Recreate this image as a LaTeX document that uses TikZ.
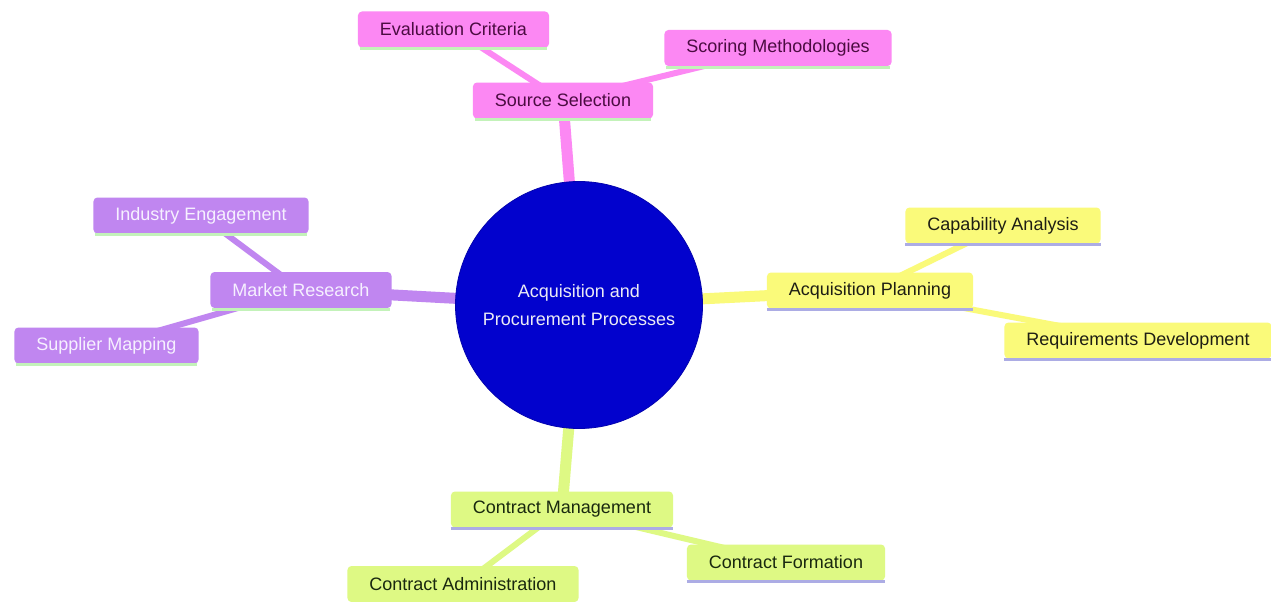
\documentclass[tikz,border=0pt]{standalone}
\usepackage{fontspec}
\setmainfont{Liberation Sans}
\usetikzlibrary{backgrounds}
\definecolor{rootfill}{RGB}{2,2,205}
\definecolor{roottext}{RGB}{235,235,245}
\definecolor{pinkfill}{RGB}{252,136,243}
\definecolor{pinktext}{RGB}{75,12,65}
\definecolor{purplefill}{RGB}{192,134,240}
\definecolor{purpletext}{RGB}{246,240,255}
\definecolor{yellowfill}{RGB}{250,250,122}
\definecolor{yellowtext}{RGB}{30,30,20}
\definecolor{greenfill}{RGB}{222,249,132}
\definecolor{greentext}{RGB}{25,40,15}
\definecolor{ulgreen}{RGB}{195,242,185}
\definecolor{ullav}{RGB}{172,172,228}
\tikzset{
  leaf/.style={rectangle, rounded corners=4pt, inner xsep=22pt, inner ysep=0pt,
    minimum height=36pt, font=\fontsize{18}{22}\selectfont},
  pinknode/.style={leaf, fill=pinkfill, text=pinktext},
  purplenode/.style={leaf, fill=purplefill, text=purpletext},
  yellownode/.style={leaf, fill=yellowfill, text=yellowtext},
  greennode/.style={leaf, fill=greenfill, text=greentext},
  rootnode/.style={circle, fill=rootfill, draw=rootfill!85!black, line width=0.8pt,
    minimum size=247pt, inner sep=0pt, text=roottext, align=center,
    font=\fontsize{18}{27.5}\selectfont},
  mainedge/.style={line width=11pt},
  subedge/.style={line width=6pt},
  uline/.style={line width=3pt}
}
\begin{document}
\begin{tikzpicture}[x=1pt,y=-1pt]
\useasboundingbox (0,0) rectangle (1271,602);
% root
\node[rootnode] (root) at (579,305) {Acquisition and\\Procurement Processes};
% pink section
\node[pinknode] (src) at (563,100.5) {Source Selection};
\node[pinknode] (eval) at (453.5,29.5) {Evaluation Criteria};
\node[pinknode] (score) at (778,48) {Scoring Methodologies};
% purple section
\node[purplenode] (mkt) at (301,290) {Market Research};
\node[purplenode] (ind) at (201,215.5) {Industry Engagement};
\node[purplenode] (sup) at (106.5,345.5) {Supplier Mapping};
% yellow section
\node[yellownode] (acq) at (870,290.5) {Acquisition Planning};
\node[yellownode] (cap) at (1003,225.5) {Capability Analysis};
\node[yellownode] (req) at (1138,340.5) {Requirements Development};
% green section
\node[greennode] (cm) at (562,509.5) {Contract Management};
\node[greennode] (ca) at (463,584) {Contract Administration};
\node[greennode] (cf) at (786,562.5) {Contract Formation};
% underlines
\foreach \n in {src,eval,score,mkt,ind,sup}
  \draw[uline, ulgreen] ([xshift=2pt,yshift=-1pt]\n.south west) -- ([xshift=-2pt,yshift=-1pt]\n.south east);
\foreach \n in {acq,cap,req,cm,ca,cf}
  \draw[uline, ullav] ([xshift=0pt,yshift=-1pt]\n.south west) -- ([xshift=0pt,yshift=-1pt]\n.south east);
% edges
\begin{pgfonlayer}{background}
\fill[white] (0,0) rectangle (1271,602);
\draw[mainedge, pinkfill] (root.center) -- (src.center);
\draw[subedge, pinkfill] (src.center) -- (eval.center);
\draw[subedge, pinkfill] (src.center) -- (score.center);
\draw[mainedge, purplefill] (root.center) -- (mkt.center);
\draw[subedge, purplefill] (mkt.center) -- (ind.center);
\draw[subedge, purplefill] (mkt.center) -- (sup.center);
\draw[mainedge, yellowfill] (root.center) -- (acq.center);
\draw[subedge, yellowfill] (acq.center) -- (cap.center);
\draw[subedge, yellowfill] (acq.center) -- (req.center);
\draw[mainedge, greenfill] (root.center) -- (cm.center);
\draw[subedge, greenfill] (cm.center) -- (ca.center);
\draw[subedge, greenfill] (cm.center) -- (cf.center);
\end{pgfonlayer}
\end{tikzpicture}
\end{document}
